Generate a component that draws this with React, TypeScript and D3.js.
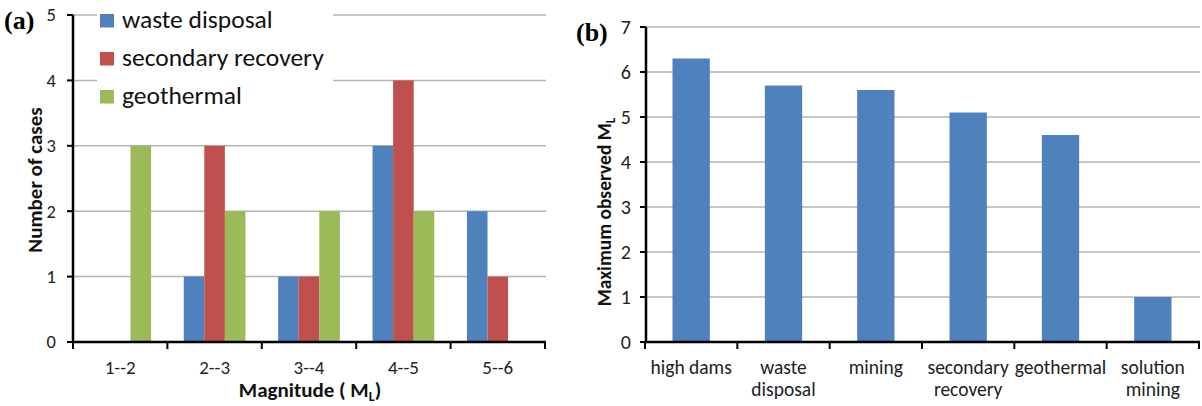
import React from 'react'
import { scaleBand, scaleLinear } from 'd3'

// panel (a): number of cases per magnitude bin
const magnitudeBins = ['1--2', '2--3', '3--4', '4--5', '5--6']
const seriesNames = ['waste disposal', 'secondary recovery', 'geothermal']
const wasteDisposal = [0, 1, 1, 3, 2]
const secondaryRecovery = [0, 3, 1, 4, 1]
const geothermal = [3, 2, 2, 2, 0]
const casesTicks = [0, 1, 2, 3, 4, 5]

// panel (b): maximum observed magnitude per activity
const activities = [
  ['high dams'],
  ['waste', 'disposal'],
  ['mining'],
  ['secondary', 'recovery'],
  ['geothermal'],
  ['solution', 'mining'],
]
const maxMagnitude = [6.3, 5.7, 5.6, 5.1, 4.6, 1.0]
const magnitudeTicks = [0, 1, 2, 3, 4, 5, 6, 7]

const colors = ['#4F81BD', '#C0504D', '#9BBB59']
const font = 'Carlito, Calibri, Lato, "Open Sans", sans-serif'
const gridColor = '#b3b3b3'

const ChartA = () => {
  const x = scaleBand().domain(magnitudeBins).range([73, 545])
  const y = scaleLinear().domain([0, 5]).range([342, 15])
  const barW = x.bandwidth() * 0.218
  const series = [wasteDisposal, secondaryRecovery, geothermal]
  const edges = [...magnitudeBins.map(d => x(d)), 545]

  return (
    <g>
      {casesTicks.filter(t => t > 0).map(t => (
        <line key={t} x1={73} x2={546} y1={y(t)} y2={y(t)} stroke={gridColor} strokeWidth={1.5} />
      ))}
      {series.map((vals, si) =>
        vals.map((v, i) => v > 0 && (
          <rect
            key={si + '-' + i}
            x={x(magnitudeBins[i]) + x.bandwidth() / 2 - 1.5 * barW + si * barW}
            y={y(v)}
            width={barW}
            height={y(0) - y(v)}
            fill={colors[si]}
          />
        ))
      )}
      {/* legend sits on a white box over the top gridlines */}
      <rect x={97} y={0} width={236} height={118} fill="white" />
      {seriesNames.map((name, i) => (
        <g key={name} transform={`translate(100, ${28 + i * 38})`}>
          <rect x={0} y={-14} width={14} height={13.5} fill={colors[i]} />
          <text x={22} y={0} fontSize={25.5} fontFamily={font} fill="#111">{name}</text>
        </g>
      ))}
      <line x1={73} x2={73} y1={15} y2={343} stroke="black" strokeWidth={2.5} />
      <line x1={72} x2={546} y1={342} y2={342} stroke="black" strokeWidth={2.5} />
      {casesTicks.map(t => (
        <g key={t}>
          <line x1={67} x2={73} y1={y(t)} y2={y(t)} stroke="black" strokeWidth={2} />
          <text x={56} y={y(t)} dy="0.35em" textAnchor="end" fontSize={18.5} fontFamily={font} fill="#222">{t}</text>
        </g>
      ))}
      {edges.map((e, i) => (
        <line key={i} x1={e} x2={e} y1={342} y2={349} stroke="black" strokeWidth={2} />
      ))}
      {magnitudeBins.map(d => (
        <text key={d} x={x(d) + x.bandwidth() / 2} y={374} textAnchor="middle" fontSize={19} fontFamily={font} fill="#222">{d}</text>
      ))}
      <text x={310} y={397} textAnchor="middle" fontSize={21} fontWeight="bold" fontFamily={font} fill="#111">
        Magnitude ( M<tspan fontSize={14} dy={4}>L</tspan><tspan dy={-4}>)</tspan>
      </text>
      <text transform="translate(42, 180) rotate(-90)" textAnchor="middle" fontSize={21} fontWeight="bold" fontFamily={font} fill="#111">
        Number of cases
      </text>
      <text x={4} y={29} fontSize={26} fontWeight="bold" fontFamily='"Liberation Serif", "Times New Roman", serif'>(a)</text>
    </g>
  )
}

const ChartB = () => {
  const x = scaleBand().domain(activities.map(a => a.join(' '))).range([645, 1199])
  const y = scaleLinear().domain([0, 7]).range([342, 27])
  const barW = x.bandwidth() * 0.404
  const edges = [...activities.map(a => x(a.join(' '))), 1199]

  return (
    <g>
      {magnitudeTicks.filter(t => t > 0).map(t => (
        <line key={t} x1={645} x2={1200} y1={y(t)} y2={y(t)} stroke={gridColor} strokeWidth={1.5} />
      ))}
      {maxMagnitude.map((v, i) => {
        const key = activities[i].join(' ')
        return (
          <rect key={key} x={x(key) + x.bandwidth() / 2 - barW / 2} y={y(v)} width={barW} height={y(0) - y(v)} fill={colors[0]} />
        )
      })}
      <line x1={646} x2={646} y1={27} y2={343} stroke="black" strokeWidth={2.5} />
      <line x1={645} x2={1200} y1={342} y2={342} stroke="black" strokeWidth={2.5} />
      {magnitudeTicks.map(t => (
        <g key={t}>
          <line x1={640} x2={646} y1={y(t)} y2={y(t)} stroke="black" strokeWidth={2} />
          <text x={631} y={y(t)} dy="0.35em" textAnchor="end" fontSize={20} fontFamily={font} fill="#222">{t}</text>
        </g>
      ))}
      {edges.map((e, i) => (
        <line key={i} x1={e} x2={e} y1={342} y2={349} stroke="black" strokeWidth={2} />
      ))}
      {activities.map(lines => (
        <text key={lines.join(' ')} textAnchor="middle" fontSize={19.5} fontFamily={font} fill="#222">
          {lines.map((l, j) => (
            <tspan key={l} x={x(lines.join(' ')) + x.bandwidth() / 2} y={374 + j * 22}>{l}</tspan>
          ))}
        </text>
      ))}
      <text transform="translate(611, 212) rotate(-90)" textAnchor="middle" fontSize={19.5} fontWeight="bold" fontFamily={font} fill="#111">
        Maximum observed M<tspan fontSize={13} dy={4}>L</tspan>
      </text>
      <text x={576} y={41} fontSize={26} fontWeight="bold" fontFamily='"Liberation Serif", "Times New Roman", serif'>(b)</text>
    </g>
  )
}

const App = () => (
  <svg width={1202} height={406} style={{ position: 'absolute', left: 0, top: 0, background: 'white' }}>
    <ChartA />
    <ChartB />
  </svg>
)

export default App
